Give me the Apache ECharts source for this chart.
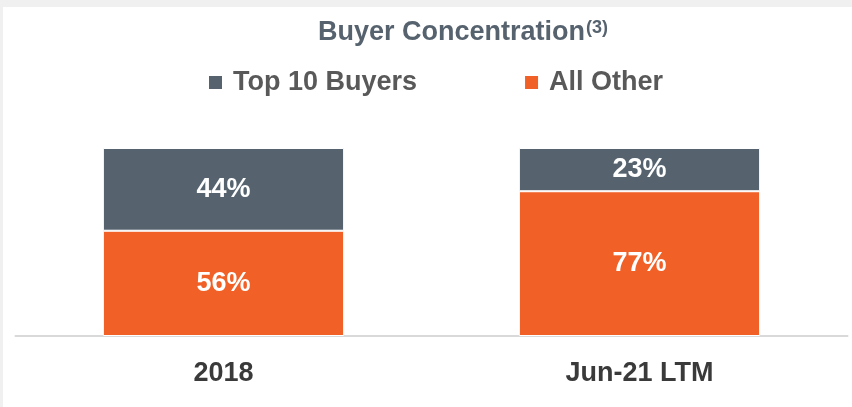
<!DOCTYPE html>
<html>
<head>
<meta charset="utf-8">
<script src="https://cdn.jsdelivr.net/npm/echarts@6/dist/echarts.min.js"></script>
<style>
  html, body { margin: 0; padding: 0; background: #f0f0f0; }
  #main { position: absolute; left: 3px; top: 7px; width: 849px; height: 400px; background: #fff; }
</style>
</head>
<body>
<div id="main"></div>
<script>
// 数据
const categories = ['2018', 'Jun-21 LTM'];
const topBuyers = [44, 23];
const allOther = [56, 77];

const font = "'Liberation Sans', Arial, sans-serif";
const chart = echarts.init(document.getElementById('main'));

chart.setOption({
  textStyle: { fontFamily: font },
  title: {
    text: '{a|Buyer Concentration}{b|(3)}',
    left: 310,
    top: 7,
    textStyle: {
      rich: {
        a: { fontSize: 27, fontWeight: 'bold', color: '#56636f', fontFamily: font },
        b: { fontSize: 18, fontWeight: 'bold', color: '#56636f', fontFamily: font, verticalAlign: 'top', padding: [0, 0, 10, 1] }
      }
    }
  },
  legend: {
    data: ['Top 10 Buyers', 'All Other'],
    top: 62,
    left: 204,
    padding: 0,
    icon: 'rect',
    itemWidth: 15,
    itemHeight: 15,
    itemGap: 106,
    textStyle: { fontSize: 27, fontWeight: 'bold', color: '#595959', fontFamily: font, padding: [0, 0, 0, 5] }
  },
  grid: { left: 12.5, right: 4.5, top: 141, bottom: 71 },
  xAxis: {
    type: 'category',
    data: categories,
    axisLine: { lineStyle: { color: '#d9d9d9', width: 2 } },
    axisTick: { show: false },
    axisLabel: { fontSize: 27, fontWeight: 'bold', color: '#3a3a3a', margin: 24, fontFamily: font }
  },
  yAxis: { type: 'value', min: 0, max: 100, show: false },
  series: [
    {
      name: 'All Other',
      type: 'bar',
      stack: 'total',
      barWidth: '58%',
      data: allOther,
      itemStyle: { color: '#f06027', borderColor: '#fff', borderWidth: 1 },
      label: { show: true, position: 'inside', formatter: '{c}%', color: '#fff', fontSize: 27, fontWeight: 'bold', fontFamily: font }
    },
    {
      name: 'Top 10 Buyers',
      type: 'bar',
      stack: 'total',
      barWidth: '58%',
      data: topBuyers,
      itemStyle: { color: '#56636f', borderColor: '#fff', borderWidth: 1 },
      label: { show: true, position: 'inside', formatter: '{c}%', color: '#fff', fontSize: 27, fontWeight: 'bold', fontFamily: font }
    }
  ]
});
</script>
</body>
</html>
